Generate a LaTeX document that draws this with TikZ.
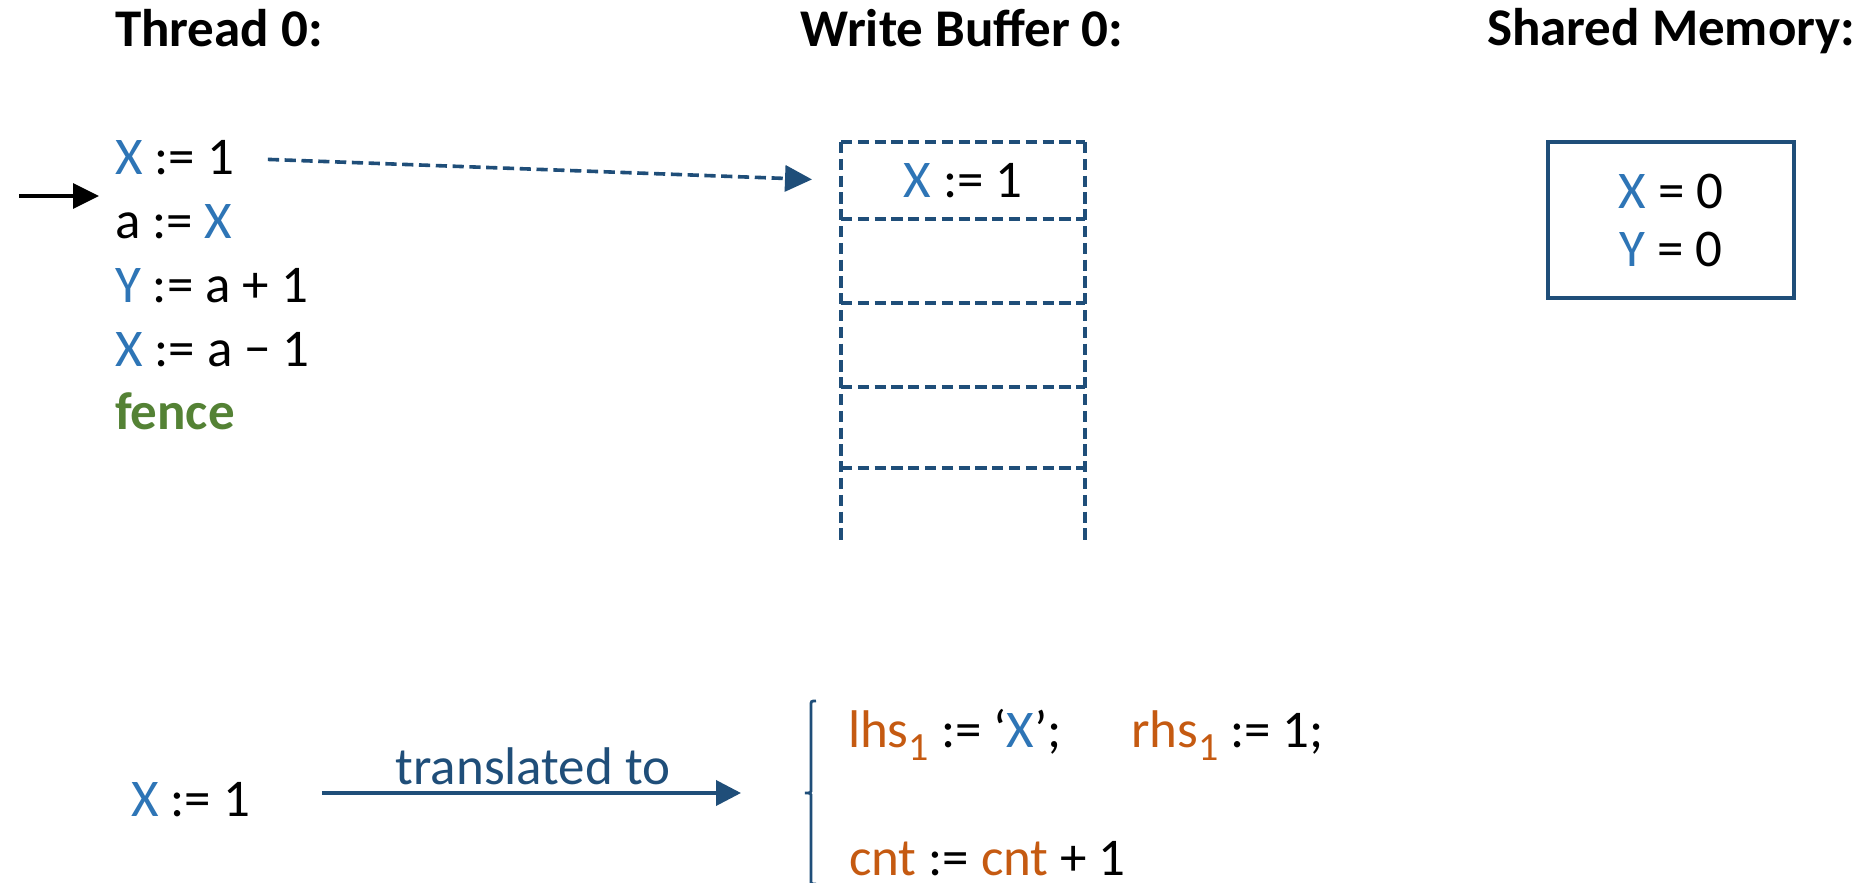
\documentclass[tikz,border=0pt]{standalone}
\usepackage{fontspec}
\setmainfont{Carlito}
\usetikzlibrary{arrows.meta}
\definecolor{navy}{RGB}{31,78,121}
\definecolor{vblue}{RGB}{46,117,182}
\definecolor{vorange}{RGB}{197,90,17}
\definecolor{vgreen}{RGB}{84,130,53}
\newcommand{\vX}{\textcolor{vblue}{X}}
\newcommand{\vY}{\textcolor{vblue}{Y}}
\newcommand{\subone}{\raisebox{-6.5pt}{\fontsize{20pt}{20pt}\selectfont 1}}
\newcommand{\orng}[1]{\textcolor{vorange}{#1}}
\begin{document}
\begin{tikzpicture}[x=0.5pt,y=-0.5pt,
  every node/.style={inner sep=0pt, outer sep=0pt, font=\fontsize{26.5pt}{31.8pt}\selectfont},
  txt/.style={anchor=base west},
  hdr/.style={font=\fontsize{26.5pt}{31.8pt}\selectfont\bfseries},
  cell/.style={minimum width=122pt, anchor=center},
  bufline/.style={draw=navy, line width=1.8pt, dash pattern=on 5.6pt off 2.8pt},
  memory/.style={draw=navy, line width=1.8pt, minimum width=123pt, minimum height=78pt, align=center, font=\fontsize{26.5pt}{29pt}\selectfont},
  dasharrow/.style={draw=navy, line width=1.8pt, dash pattern=on 5.6pt off 2.8pt, -{Triangle[length=13.5pt,width=13pt]}},
  solidarrow/.style={draw=navy, line width=1.9pt, -{Triangle[length=12.5pt,width=12.5pt]}},
  pcarrow/.style={draw=black, line width=1.6pt, -{Triangle[length=13pt,width=12.5pt]}},
  bracestyle/.style={draw=navy, line width=1.4pt}
]
\path[use as bounding box, fill=white] (0,0) rectangle (1870,883);

% headers
\node[hdr, anchor=base west] (h1) at (115,47) {Thread 0:};
\node[hdr, anchor=base] (h2) at (962,47) {Write Buffer 0:};
\node[hdr, anchor=base west] (h3) at (1487,46) {Shared Memory:};

% thread code
\node[txt] (l1) at (115,175) {\vX{} := 1};
\node[txt] (l2) at (115,238) {a := \vX};
\node[txt] (l3) at (115,302) {\vY{} := a + 1};
\node[txt] (l4) at (115,366) {\vX{} := a − 1};
\node[txt, font=\fontsize{26.5pt}{31.8pt}\selectfont\bfseries, text=vgreen] (l5) at (115,429) {fence};

% program counter arrow
\coordinate (pc) at (19,196);
\draw[pcarrow, shorten >=8pt] (pc) -- (pc -| l2.west);

% write buffer
\node[cell, minimum height=38.5pt] (c1) at (963,180.5) {\vX{} := 1};
\node[cell, minimum height=42pt] (c2) at (963,261) {};
\node[cell, minimum height=42pt] (c3) at (963,345) {};
\node[cell, minimum height=40.5pt] (c4) at (963,427.5) {};
\draw[bufline] (c1.north west) -- (c1.north east);
\foreach \c in {c1,c2,c3,c4} {
  \draw[bufline] (\c.south west) -- (\c.south east);
}
\draw[bufline] (c1.north west) -- (c4.south west) -- ++(0,75);
\draw[bufline] (c1.north east) -- (c4.south east) -- ++(0,75);

% dashed arrow into buffer
\draw[dasharrow, shorten <=17pt, shorten >=14.5pt] (l1.east) -- (c1.west);

% shared memory
\node[memory] (mem) at (1671,220) {\vX{} = 0\\\vY{} = 0};

% translation
\node[txt] (bx) at (131,816) {\vX{} := 1};
\coordinate (nub) at (805,793);
\draw[bracestyle] (816,701) .. controls (811,701) .. (811,706) -- (811,789)
  .. controls (811,793) .. (nub) .. controls (811,793) .. (811,797)
  -- (811,880) .. controls (811,884) .. (816,884);
\draw[solidarrow, shorten <=36pt, shorten >=32pt] (bx.east |- nub) -- node[pos=0.51, anchor=base, yshift=4.5pt, text=navy] (tl) {translated to} (nub);

\node[txt] (t1) at (848,747) {\orng{lhs\subone} := ‘\vX’;};
\node[txt] (t2) at (1131,747) {\orng{rhs\subone} := 1;};
\node[txt] (t3) at (849,875) {\orng{cnt} := \orng{cnt} + 1};
\end{tikzpicture}
\end{document}
